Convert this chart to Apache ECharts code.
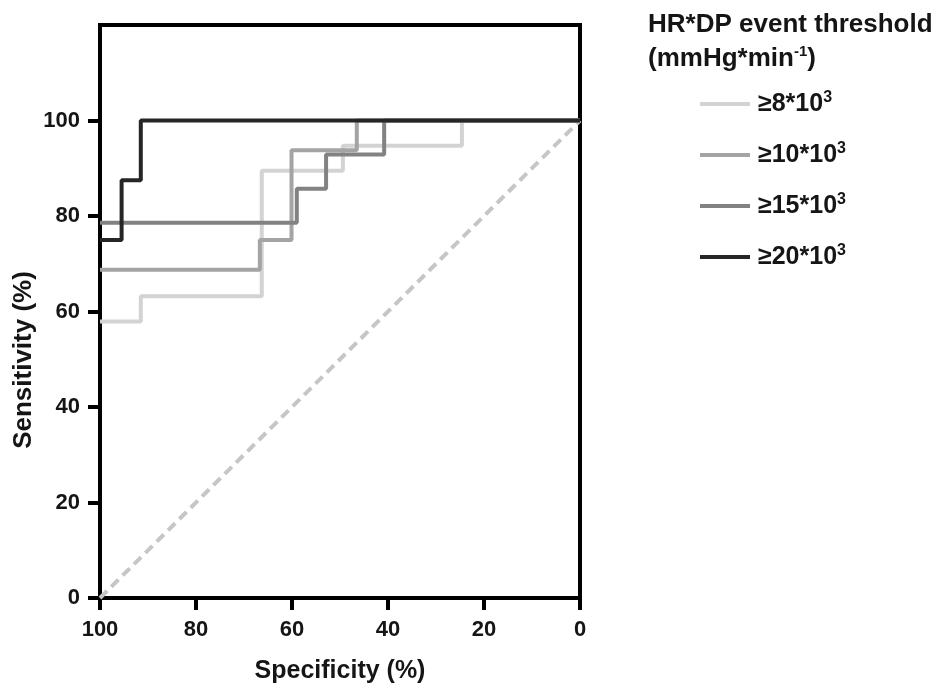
<!DOCTYPE html>
<html>
<head>
<meta charset="utf-8">
<script src="https://cdn.jsdelivr.net/npm/echarts@6/dist/echarts.min.js"></script>
<style>
html,body{margin:0;padding:0;background:#fff;}
#chart{width:943px;height:689px;}
</style>
</head>
<body>
<div id="chart"></div>
<script>
// Step-curve corner points (specificity %, sensitivity %)
const seriesNames = ['≥8*10³', '≥10*10³', '≥15*10³', '≥20*10³'];
const legendBase = ['≥8*10', '≥10*10', '≥15*10', '≥20*10'];
const spec8  = [100, 91.5, 91.5, 66.3, 66.3, 49.4, 49.4, 24.6, 24.6, 0];
const sens8  = [57.9, 57.9, 63.2, 63.2, 89.5, 89.5, 94.7, 94.7, 100, 100];
const spec10 = [100, 66.7, 66.7, 60.1, 60.1, 46.5, 46.5, 0];
const sens10 = [68.75, 68.75, 75, 75, 93.75, 93.75, 100, 100];
const spec15 = [100, 59.0, 59.0, 52.9, 52.9, 40.8, 40.8, 0];
const sens15 = [78.6, 78.6, 85.7, 85.7, 92.9, 92.9, 100, 100];
const spec20 = [100, 95.5, 95.5, 91.5, 91.5, 0];
const sens20 = [75, 75, 87.5, 87.5, 100, 100];
const refSpec = [100, 0];
const refSens = [0, 100];
const tickValues = [0, 20, 40, 60, 80, 100];
const colors = ['#d3d3d3', '#a4a4a4', '#828282', '#262626'];

const pairs = (xs, ys) => xs.map((x, i) => [x, ys[i]]);
const FONT = 'Liberation Sans, Arial, sans-serif';
const TXT = '#151515';

const chart = echarts.init(document.getElementById('chart'), null, {renderer: 'canvas'});
const curves = [[spec8, sens8], [spec10, sens10], [spec15, sens15], [spec20, sens20]];

chart.setOption({
  animation: false,
  backgroundColor: '#fff',
  grid: {left: 100, right: 363, top: 25, bottom: 89, show: true, borderColor: '#000', borderWidth: 4, backgroundColor: 'transparent'},
  title: {
    text: '{b|HR*DP event threshold}\n{b|(mmHg*min}{s|-1}{b|)}',
    left: 648, top: 8, padding: 0,
    textStyle: {
      fontFamily: FONT, fontWeight: 'bold', fontSize: 26, color: TXT, lineHeight: 34,
      rich: {
        b: {fontFamily: FONT, fontWeight: 'bold', fontSize: 26, color: TXT, lineHeight: 34},
        s: {fontFamily: FONT, fontWeight: 'bold', fontSize: 15, color: TXT, lineHeight: 16, padding: [0, 0, 14, 0]}
      }
    }
  },
  legend: {
    orient: 'vertical',
    left: 695, top: 85,
    itemWidth: 50, itemHeight: 4, itemGap: 23,
    icon: 'rect',
    data: seriesNames,
    formatter: (name) => '{a|' + legendBase[seriesNames.indexOf(name)] + '}{s|3}',
    textStyle: {
      fontFamily: FONT, fontWeight: 'bold', fontSize: 25, color: TXT, lineHeight: 26, padding: [0, 0, 0, 3],
      rich: {
        a: {fontFamily: FONT, fontWeight: 'bold', fontSize: 25, color: TXT, lineHeight: 26},
        s: {fontFamily: FONT, fontWeight: 'bold', fontSize: 16, color: TXT, lineHeight: 14, padding: [0, 0, 12, 0]}
      }
    }
  },
  graphic: [{
    type: 'text', x: 24, y: 360, rotation: Math.PI / 2,
    style: {text: 'Sensitivity (%)', fontFamily: FONT, fontWeight: 'bold', fontSize: 26, fill: TXT, align: 'center', verticalAlign: 'middle'}
  }],
  xAxis: {
    type: 'value', min: 0, max: 100, interval: 20, inverse: true,
    name: 'Specificity (%)', nameLocation: 'middle', nameGap: 61,
    nameTextStyle: {fontFamily: FONT, fontWeight: 'bold', fontSize: 25, color: TXT},
    axisLine: {show: true, onZero: false, lineStyle: {color: '#000', width: 4}},
    axisTick: {show: true, inside: false, length: 12, lineStyle: {color: '#000', width: 4}},
    axisLabel: {fontFamily: FONT, fontWeight: 'bold', fontSize: 22, color: TXT, margin: 21},
    splitLine: {show: false}
  },
  yAxis: {
    type: 'value', min: 0, max: 120, interval: 20,
    axisLine: {show: true, onZero: false, lineStyle: {color: '#000', width: 4}},
    axisTick: {show: true, inside: false, length: 12, customValues: tickValues, lineStyle: {color: '#000', width: 4}},
    axisLabel: {fontFamily: FONT, fontWeight: 'bold', fontSize: 22, color: TXT, margin: 20, customValues: tickValues},
    splitLine: {show: false}
  },
  series: [
    {
      type: 'line', name: 'ref', data: pairs(refSpec, refSens), showSymbol: false, silent: true,
      lineStyle: {color: '#c6c6c6', width: 4, type: [10, 6]}, z: 1
    }
  ].concat(curves.map((c, i) => ({
    type: 'line', name: seriesNames[i], data: pairs(c[0], c[1]), showSymbol: false,
    color: colors[i],
    lineStyle: {color: colors[i], width: 4}, z: 2 + i
  })))
});
</script>
</body>
</html>
